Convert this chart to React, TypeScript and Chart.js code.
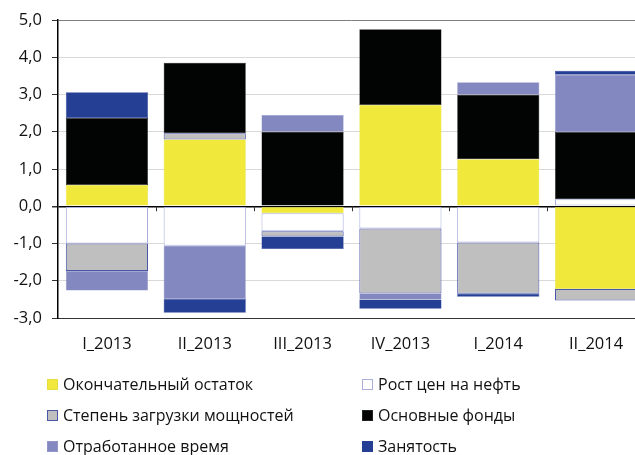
import React, { useEffect, useRef } from "react";
import { Chart, registerables } from "chart.js";

Chart.register(...registerables);

const categories = ["I_2013", "II_2013", "III_2013", "IV_2013", "I_2014", "II_2014"];
const residual = [0.57, 1.79, -0.19, 2.72, 1.26, -2.22];
const oilPrice = [-1.0, -1.06, -0.48, -0.6, -0.97, 0.19];
const capacity = [-0.74, 0.17, -0.14, -1.74, -1.38, -0.31];
const capital = [1.8, 1.89, 2.0, 2.03, 1.73, 1.8];
const hours = [-0.52, -1.43, 0.45, -0.16, 0.34, 1.54];
const employment = [0.69, -0.37, -0.34, -0.25, -0.08, 0.11];

const seriesNames = [
  "Окончательный остаток",
  "Рост цен на нефть",
  "Степень загрузки мощностей",
  "Основные фонды",
  "Отработанное время",
  "Занятость",
];
const fills = ["#F0E83A", "#FFFFFF", "#BFBFBF", "#020303", "#8488C0", "#253F94"];
const borders = ["#E6DE40", "#A9AEDC", "#4A56A8", "#222222", "#9296C8", "#253F94"];
const seriesValues = [residual, oilPrice, capacity, capital, hours, employment];

const FONT = "'Open Sans', 'Noto Sans', sans-serif";

const zeroTicks = {
  id: "zeroTicks",
  afterDatasetsDraw(chart: any) {
    const x = chart.scales.x;
    const y = chart.scales.y;
    const ctx = chart.ctx;
    const y0 = y.getPixelForValue(0);
    const n = categories.length;
    const w = (x.right - x.left) / n;
    ctx.save();
    ctx.strokeStyle = "#333333";
    ctx.lineWidth = 1;
    for (let i = 1; i < n; i++) {
      const px = Math.round(x.left + i * w) + 0.5;
      ctx.beginPath();
      ctx.moveTo(px, y0);
      ctx.lineTo(px, y0 + 5);
      ctx.stroke();
    }
    ctx.restore();
  },
};

export default function App() {
  const ref = useRef<HTMLCanvasElement>(null);
  useEffect(() => {
    if (!ref.current) return;
    const chart = new Chart(ref.current, {
      type: "bar",
      data: {
        labels: categories,
        datasets: seriesValues.map((vals, i) => ({
          label: seriesNames[i],
          data: vals,
          backgroundColor: fills[i],
          borderColor: borders[i],
          borderWidth: i === 1 || i === 2 ? 1 : 0.5,
          borderSkipped: false,
          categoryPercentage: 1,
          barPercentage: 0.84,
        })),
      },
      options: {
        responsive: false,
        animation: false,
        devicePixelRatio: 1,
        layout: { padding: { top: 20, right: 0, bottom: 97, left: 0 } },
        plugins: { legend: { display: false }, tooltip: { enabled: false } },
        scales: {
          x: {
            stacked: true,
            grid: { display: false, drawTicks: false },
            border: { display: true, color: "#333333", width: 1 },
            ticks: { color: "#111", font: { family: FONT, size: 16.5 }, padding: 16, maxRotation: 0 },
            afterFit: (s: any) => {
              s.height = 40;
            },
          },
          y: {
            stacked: true,
            min: -3,
            max: 5,
            ticks: {
              stepSize: 1,
              color: "#111",
              padding: 10,
              font: { family: FONT, size: 16.5 },
              callback: (v: any) => Number(v).toFixed(1).replace(".", ","),
            },
            grid: {
              color: (c: any) =>
                c.tick && c.tick.value === 0
                  ? "#000000"
                  : c.tick && c.tick.value === 5
                  ? "#7F7F7F"
                  : c.tick && c.tick.value === -3
                  ? "#333333"
                  : "#D9D9D9",
              lineWidth: (c: any) => (c.tick && c.tick.value === 0 ? 1.5 : 1),
              tickLength: 6,
              tickColor: "#333333",
            },
            border: { display: true, color: "#000000", width: 1.5 },
            afterFit: (s: any) => {
              s.width = 58;
            },
          },
        },
      },
      plugins: [zeroTicks],
    });
    return () => chart.destroy();
  }, []);

  const legendRows = [
    [0, 1],
    [2, 3],
    [4, 5],
  ];
  const rowCenters = [384, 415, 446];

  return (
    <div
      style={{
        position: "fixed",
        left: 0,
        top: 0,
        width: 635,
        height: 455,
        overflow: "hidden",
        background: "#fff",
        fontFamily: FONT,
      }}
    >
      <canvas ref={ref} width={645} height={455} style={{ width: 645, height: 455, display: "block" }} />
      {legendRows.map((row, r) =>
        row.map((idx, c) => (
          <div
            key={idx}
            style={{
              position: "absolute",
              left: c === 0 ? 47 : 362,
              top: rowCenters[r] - 11,
              height: 22,
              display: "flex",
              alignItems: "center",
              fontSize: 16,
              color: "#111",
              whiteSpace: "nowrap",
            }}
          >
            <span
              style={{
                display: "inline-block",
                width: 9,
                height: 9,
                background: fills[idx],
                border: `1px solid ${borders[idx]}`,
                marginRight: 5,
              }}
            />
            {seriesNames[idx]}
          </div>
        ))
      )}
    </div>
  );
}
